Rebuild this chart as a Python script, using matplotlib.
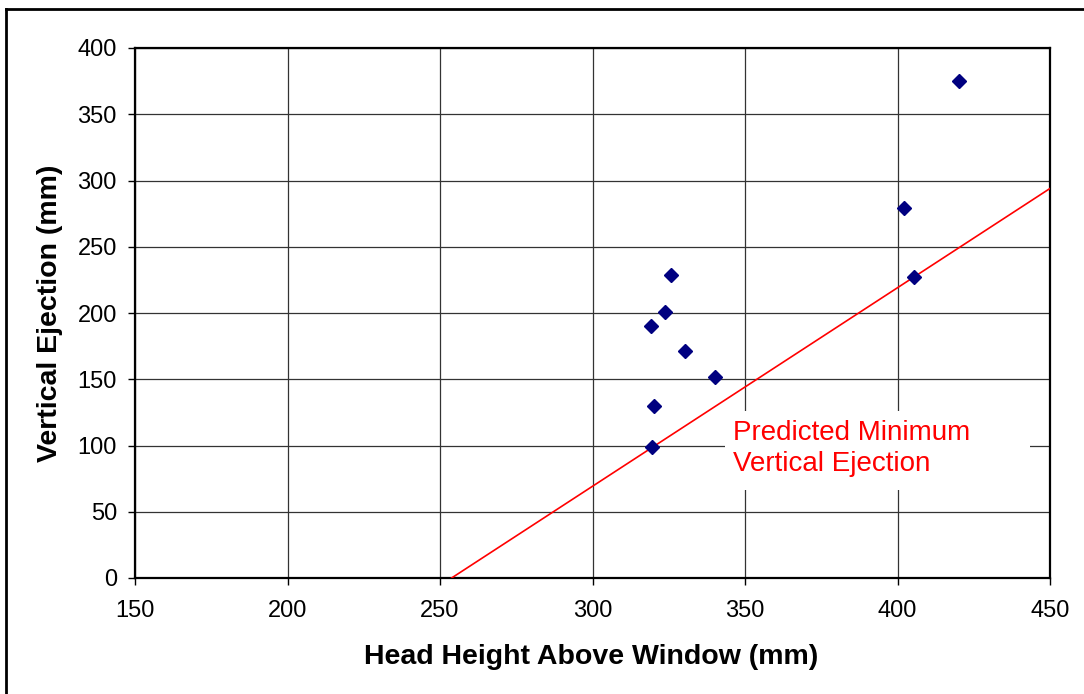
import matplotlib
matplotlib.use('Agg')
import matplotlib.pyplot as plt
from matplotlib.patches import Rectangle
from matplotlib.lines import Line2D

# measured points
head_height = [325.7, 323.9, 319.2, 330.2, 340.2, 320.1, 319.4, 420.1, 402.0, 405.3]
vertical_ejection = [228.9, 201.0, 190.0, 171.5, 151.9, 129.8, 99.1, 375.1, 279.2, 227.4]

# predicted minimum line
pred_x = [253.8, 450.0]
pred_y = [0.0, 294.0]

x_ticks = [150, 200, 250, 300, 350, 400, 450]
y_ticks = [0, 50, 100, 150, 200, 250, 300, 350, 400]

plt.rcParams['font.family'] = ['Liberation Sans', 'DejaVu Sans']

fig = plt.figure(figsize=(10.84, 6.94), dpi=100, facecolor='white')
ax = fig.add_axes([135 / 1084, 1 - 578 / 694, 915 / 1084, 530 / 694])

ax.set_xlim(150, 450)
ax.set_ylim(0, 400)
ax.set_xticks(x_ticks)
ax.set_yticks(y_ticks)
ax.set_axisbelow(True)
ax.grid(True, color='#333333', linewidth=0.9)

# white box behind the annotation
ax.add_patch(Rectangle((343.4, 66.4), 100.0, 59.6, facecolor='white',
                       edgecolor='none', zorder=1))
ax.text(346.0, 97.5, "Predicted Minimum\nVertical Ejection", color='#FF0000',
        fontsize=20, va='center', ha='left', linespacing=1.25, zorder=2)

ax.plot(pred_x, pred_y, color='#FF0000', linewidth=1.2, zorder=3, clip_on=True)
ax.plot(head_height, vertical_ejection, linestyle='none', marker='D',
        markersize=7, color='#000080', zorder=4, clip_on=False)

for sp in ax.spines.values():
    sp.set_linewidth(1.6)
    sp.set_color('black')

ax.tick_params(axis='x', direction='out', length=5, width=1, pad=11, labelsize=17)
ax.tick_params(axis='y', direction='out', length=5, width=1, pad=8, labelsize=17)

fig.text(591 / 1084, 1 - 657 / 694, "Head Height Above Window (mm)",
         fontsize=20.5, fontweight='bold', ha='center', va='center')
fig.text(50 / 1084, 1 - 313 / 694, "Vertical Ejection (mm)",
         fontsize=20.5, fontweight='bold', ha='center', va='center', rotation=90)

# outer frame (top and left edges visible)
fig.add_artist(Line2D([6 / 1084, 1.0], [1 - 9 / 694, 1 - 9 / 694],
                      transform=fig.transFigure, color='black', linewidth=2))
fig.add_artist(Line2D([6 / 1084, 6 / 1084], [1 - 9 / 694, 0.0],
                      transform=fig.transFigure, color='black', linewidth=2))

fig.savefig("out.png", dpi=100, facecolor='white')
